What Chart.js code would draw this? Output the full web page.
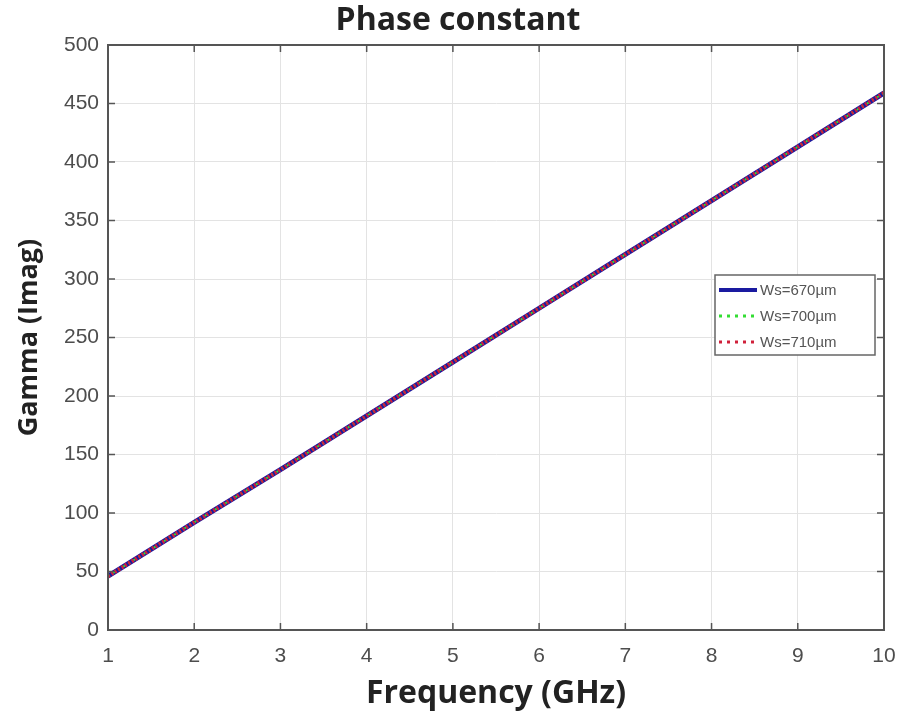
<!DOCTYPE html>
<html>
<head>
<meta charset="utf-8">
<script src="https://cdn.jsdelivr.net/npm/chart.js@4.4.0/dist/chart.umd.min.js"></script>
<style>
  html, body { margin: 0; padding: 0; background: #fff; }
  #wrap { width: 900px; height: 717px; }
</style>
</head>
<body>
<div id="wrap"><canvas id="phaseChart"></canvas></div>
<script>
// data
const freqGHz = [1, 2, 3, 4, 5, 6, 7, 8, 9, 10];
const gamma670 = [46, 92, 137, 183, 229, 275, 321, 367, 413, 459];
const gamma700 = [46, 92, 137, 183, 229, 275, 321, 367, 413, 459];
const gamma710 = [46, 92, 137, 183, 229, 275, 321, 367, 413, 459];
const seriesLabels = ['Ws=670µm', 'Ws=700µm', 'Ws=710µm'];
const yTicks = [0, 50, 100, 150, 200, 250, 300, 350, 400, 450, 500];
const chartTitle = 'Phase constant';

function toPoints(ys) {
  return freqGHz.map(function (x, i) { return { x: x, y: ys[i] }; });
}

const boldFont = '"Open Sans", "Noto Sans", sans-serif';
const tickFont = '"Liberation Sans", Arial, sans-serif';

// title, box with inward ticks, legend inside the plot (matlab look)
const boxAndLegend = {
  id: 'boxAndLegend',
  afterDraw: function (chart) {
    const ctx = chart.ctx;
    const a = chart.chartArea;
    const xs = chart.scales.x, ys = chart.scales.y;
    ctx.save();

    ctx.fillStyle = '#222';
    ctx.font = 'bold 32px ' + boldFont;
    ctx.textAlign = 'center';
    ctx.textBaseline = 'middle';
    ctx.fillText(chartTitle, 458, 21);

    ctx.strokeStyle = '#555';
    ctx.lineWidth = 2;
    ctx.strokeRect(a.left, a.top, a.right - a.left, a.bottom - a.top);

    ctx.lineWidth = 1.5;
    ctx.beginPath();
    freqGHz.forEach(function (v) {
      const px = xs.getPixelForValue(v);
      ctx.moveTo(px, a.bottom); ctx.lineTo(px, a.bottom - 7);
      ctx.moveTo(px, a.top); ctx.lineTo(px, a.top + 7);
    });
    yTicks.forEach(function (v) {
      const py = ys.getPixelForValue(v);
      ctx.moveTo(a.left, py); ctx.lineTo(a.left + 7, py);
      ctx.moveTo(a.right, py); ctx.lineTo(a.right - 7, py);
    });
    ctx.stroke();

    // legend
    const lx = 715, ly = 275, lw = 160, lh = 80;
    ctx.fillStyle = '#fff';
    ctx.fillRect(lx, ly, lw, lh);
    ctx.strokeStyle = '#666';
    ctx.lineWidth = 1.5;
    ctx.strokeRect(lx, ly, lw, lh);
    ctx.font = '15px ' + tickFont;
    ctx.textAlign = 'left';
    ctx.textBaseline = 'middle';
    chart.data.datasets.forEach(function (ds, i) {
      const y = ly + 15 + i * 26;
      ctx.beginPath();
      ctx.strokeStyle = ds.borderColor;
      ctx.lineWidth = ds.borderDash ? 3 : 4;
      ctx.setLineDash(ds.borderDash ? [3, 5] : []);
      ctx.moveTo(lx + 4, y);
      ctx.lineTo(lx + 42, y);
      ctx.stroke();
      ctx.setLineDash([]);
      ctx.fillStyle = '#555';
      ctx.fillText(ds.label, lx + 45, y + 1);
    });
    ctx.restore();
  }
};

const ctx = document.getElementById('phaseChart').getContext('2d');
const chart = new Chart(ctx, {
  type: 'line',
  data: {
    datasets: [{
      label: seriesLabels[0],
      data: toPoints(gamma670),
      borderColor: '#1a1aa0',
      borderWidth: 5,
      pointRadius: 0,
      tension: 0,
      order: 3
    }, {
      label: seriesLabels[1],
      data: toPoints(gamma700),
      borderColor: '#33dd33',
      borderWidth: 2,
      borderDash: [2, 4],
      pointRadius: 0,
      tension: 0,
      order: 2
    }, {
      label: seriesLabels[2],
      data: toPoints(gamma710),
      borderColor: '#d0203a',
      borderWidth: 4,
      borderDash: [2, 2],
      pointRadius: 0,
      tension: 0,
      order: 1
    }]
  },
  options: {
    responsive: true,
    maintainAspectRatio: false,
    animation: false,
    layout: { padding: { top: 45, right: 16, bottom: 0, left: 0 } },
    scales: {
      x: {
        type: 'linear',
        min: 1,
        max: 10,
        afterFit: function (scale) {
          scale.height = 87;
          scale.paddingLeft = 0;
          scale.paddingRight = 0;
        },
        ticks: {
          stepSize: 1,
          color: '#4d4d4d',
          padding: 14,
          font: { family: tickFont, size: 21 }
        },
        grid: { color: '#e3e3e3', drawTicks: false },
        border: { color: '#555', width: 2 },
        title: {
          display: true,
          text: 'Frequency (GHz)',
          color: '#222',
          padding: { top: 0, bottom: 4 },
          font: { family: boldFont, size: 32, weight: 'bold', lineHeight: 1.2 }
        }
      },
      y: {
        min: 0,
        max: 500,
        afterFit: function (scale) {
          scale.width = 108;
          scale.paddingTop = 0;
          scale.paddingBottom = 0;
        },
        afterBuildTicks: function (scale) {
          scale.ticks = yTicks.map(function (v) { return { value: v }; });
        },
        ticks: {
          color: '#4d4d4d',
          padding: 9,
          font: { family: tickFont, size: 21 }
        },
        grid: { color: '#e3e3e3', drawTicks: false },
        border: { color: '#555', width: 2 },
        title: {
          display: true,
          text: 'Gamma (Imag)',
          color: '#222',
          padding: { top: 13, bottom: 0 },
          font: { family: boldFont, size: 27, weight: 'bold', lineHeight: 1.2 }
        }
      }
    },
    plugins: {
      legend: { display: false },
      tooltip: { enabled: false },
      title: { display: false }
    }
  },
  plugins: [boxAndLegend]
});
</script>
</body>
</html>
